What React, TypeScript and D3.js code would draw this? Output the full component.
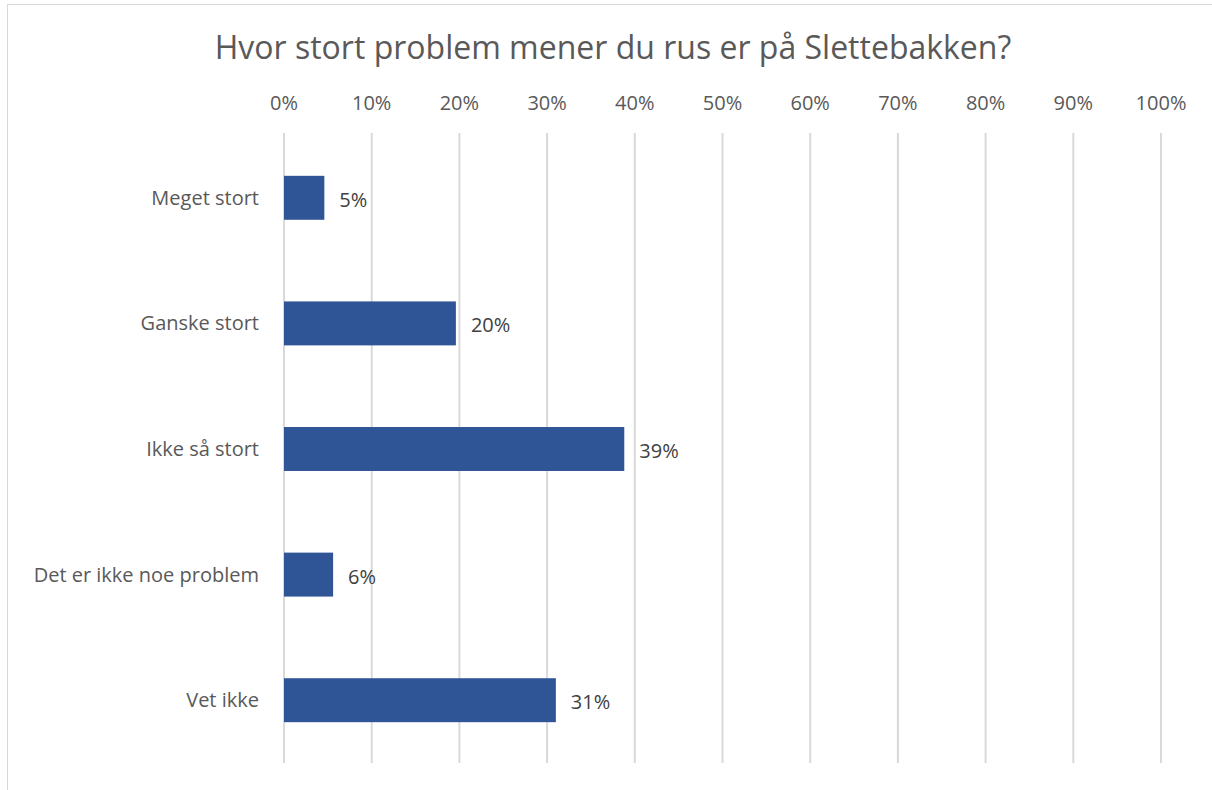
import React, { useEffect, useRef } from "react";
import * as d3 from "d3";

const categories = [
  "Meget stort",
  "Ganske stort",
  "Ikke så stort",
  "Det er ikke noe problem",
  "Vet ikke",
];
const shares = [0.046, 0.196, 0.388, 0.056, 0.31];
const tickValues = [0, 0.1, 0.2, 0.3, 0.4, 0.5, 0.6, 0.7, 0.8, 0.9, 1];
const title = "Hvor stort problem mener du rus er på Slettebakken?";

const App = () => {
  const svgRef = useRef<SVGSVGElement>(null);

  useEffect(() => {
    const svg = d3.select(svgRef.current);
    svg.selectAll("*").remove();

    const width = 1212;
    const height = 790;
    const margin = { top: 135, right: 51, bottom: 27, left: 284 };
    const font = "'Open Sans', sans-serif";
    const textColor = "#595959";

    svg.attr("width", width).attr("height", height);

    // frame
    svg.append("rect")
      .attr("x", 7.5)
      .attr("y", 4.5)
      .attr("width", width)
      .attr("height", height)
      .attr("fill", "white")
      .attr("stroke", "#d9d9d9")
      .attr("stroke-width", 1);

    const x = d3.scaleLinear()
      .domain([0, 1])
      .range([margin.left, width - margin.right]);

    const y = d3.scaleBand()
      .domain(categories)
      .range([margin.top, height - margin.bottom])
      .paddingInner(0.65)
      .paddingOuter(0.325);

    // gridlines
    svg.append("g")
      .selectAll("line")
      .data(tickValues)
      .enter()
      .append("line")
      .attr("x1", d => x(d))
      .attr("x2", d => x(d))
      .attr("y1", margin.top - 2)
      .attr("y2", height - margin.bottom)
      .attr("stroke", "#d9d9d9")
      .attr("stroke-width", 2);

    // top axis labels
    svg.append("g")
      .selectAll("text")
      .data(tickValues)
      .enter()
      .append("text")
      .attr("x", d => x(d))
      .attr("y", 103)
      .attr("dy", "0.35em")
      .attr("text-anchor", "middle")
      .style("font-family", font)
      .style("font-size", "20px")
      .style("fill", textColor)
      .text(d => d3.format(".0%")(d));

    // bars
    svg.append("g")
      .selectAll("rect")
      .data(categories)
      .enter()
      .append("rect")
      .attr("x", x(0))
      .attr("y", d => y(d)!)
      .attr("width", (d, i) => x(shares[i]) - x(0))
      .attr("height", y.bandwidth())
      .attr("fill", "#2f5597");

    // value labels
    svg.append("g")
      .selectAll("text")
      .data(categories)
      .enter()
      .append("text")
      .attr("x", (d, i) => x(shares[i]) + 15)
      .attr("y", d => y(d)! + y.bandwidth() / 2 + 2)
      .attr("dy", "0.35em")
      .style("font-family", font)
      .style("font-size", "20px")
      .style("fill", "#404040")
      .text((d, i) => d3.format(".0%")(shares[i]));

    // category labels
    svg.append("g")
      .selectAll("text")
      .data(categories)
      .enter()
      .append("text")
      .attr("x", margin.left - 25)
      .attr("y", d => y(d)! + y.bandwidth() / 2)
      .attr("dy", "0.35em")
      .attr("text-anchor", "end")
      .style("font-family", font)
      .style("font-size", "20px")
      .style("fill", textColor)
      .text(d => d);

    // title
    svg.append("text")
      .attr("x", 613)
      .attr("y", 48)
      .attr("dy", "0.35em")
      .attr("text-anchor", "middle")
      .style("font-family", font)
      .style("font-size", "32px")
      .style("fill", textColor)
      .text(title);
  }, []);

  return <svg ref={svgRef} style={{ position: "absolute", left: 0, top: 0 }} />;
};

export default App;
